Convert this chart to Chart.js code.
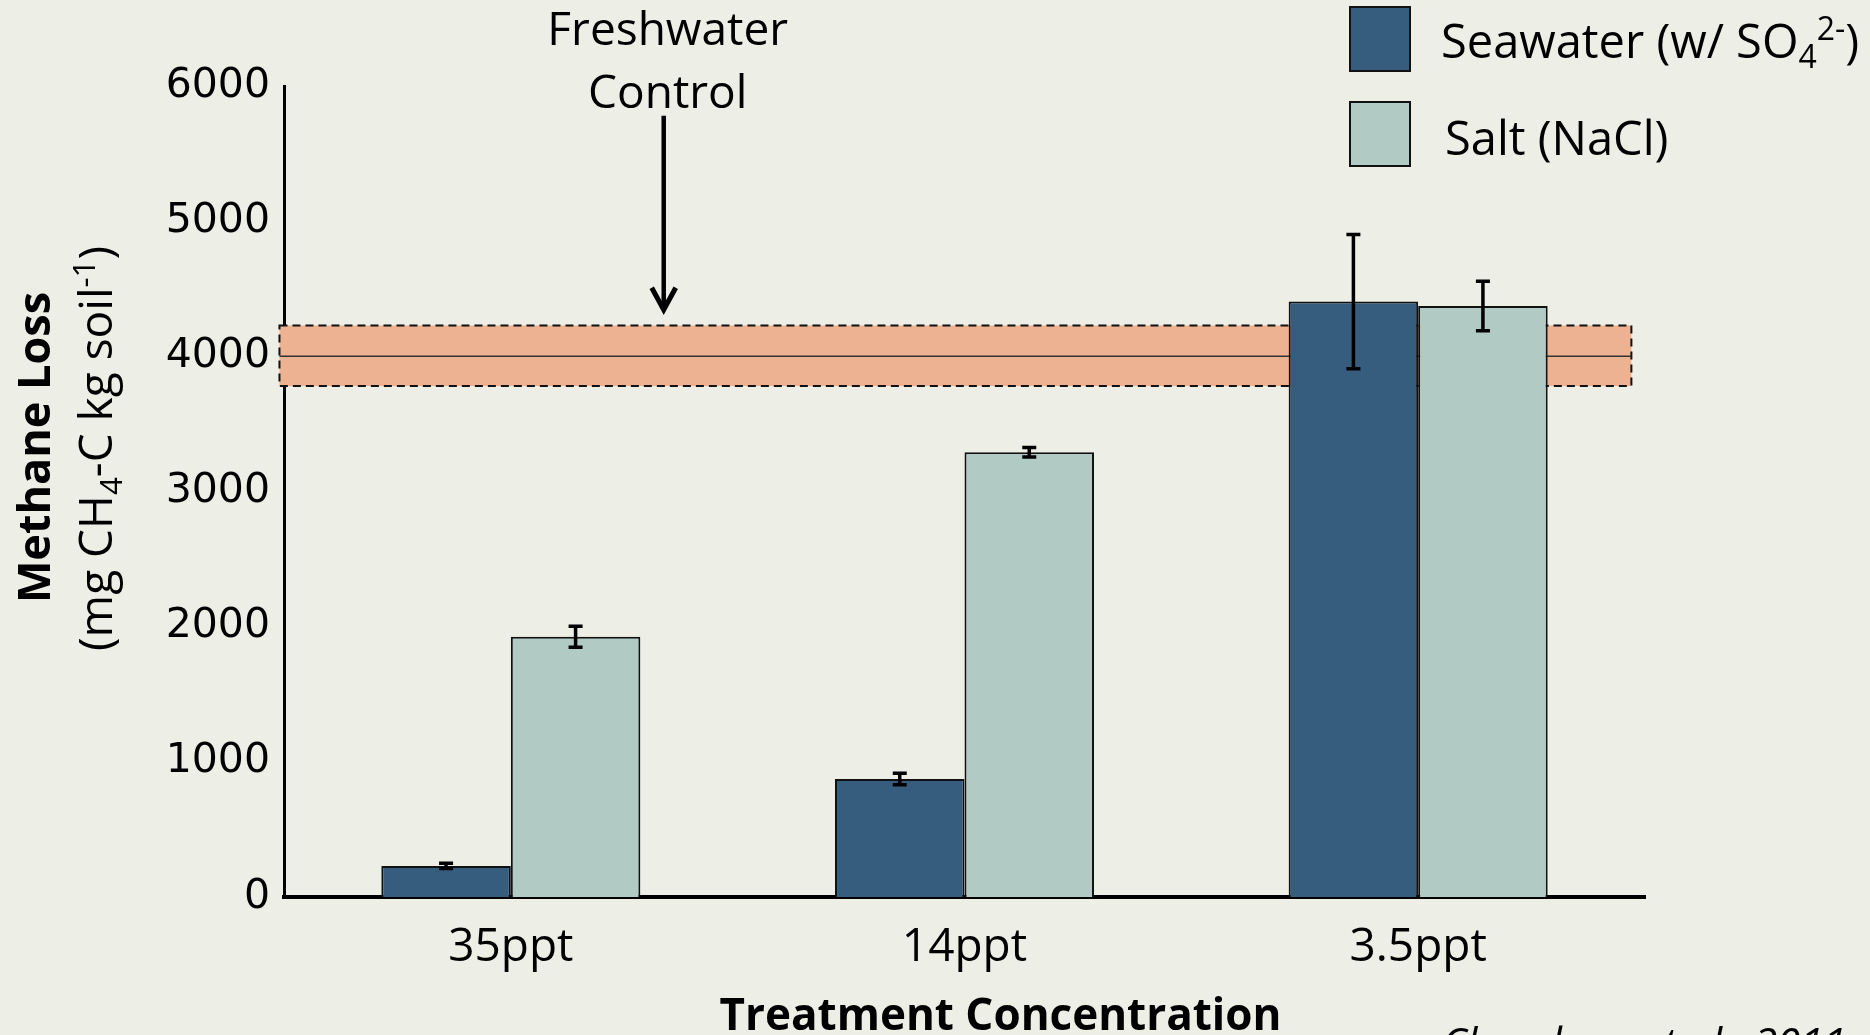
<!DOCTYPE html>
<html>
<head>
<meta charset="utf-8">
<script src="https://cdn.jsdelivr.net/npm/chart.js@4/dist/chart.umd.min.js"></script>
<style>
  html, body { margin: 0; padding: 0; background: #edeee6; }
  #wrap { width: 1870px; height: 1035px; position: relative; }
</style>
</head>
<body>
<div id="wrap"><canvas id="grafico"></canvas></div>
<script>
// data
const categories = ["35ppt", "14ppt", "3.5ppt"];
const seawater = [230, 873, 4405];
const seawaterErr = [20, 42, 497];
const salt = [1925, 3290, 4372];
const saltErr = [78, 35, 183];
const yMin = 0, yMax = 6000, yStep = 1000;
// freshwater control: mean and band
const control = { mean: 4000, low: 3780, high: 4228 };
const arrowFrom = 5780, arrowTo = 4345;

const seaColor = "#365c7e";
const saltColor = "#b1cbc4";
const bandColor = "#edb291";
const bg = "#edeee6";

// draws text with sub/superscripts, parts = [[text, "sub"|"sup"|null], ...]
function richText(ctx, parts, x, y, size, family, weight, align) {
  const font = (s) => (weight || "") + " " + s + "px " + family;
  let w = 0;
  parts.forEach(p => {
    ctx.font = font(p[1] ? size * 0.68 : size);
    w += ctx.measureText(p[0]).width;
  });
  let cx = align === "center" ? x - w / 2 : x;
  ctx.textAlign = "left";
  ctx.textBaseline = "alphabetic";
  parts.forEach(p => {
    const s = p[1] ? size * 0.68 : size;
    ctx.font = font(s);
    let dy = 0;
    if (p[1] === "sub") dy = size * 0.22;
    if (p[1] === "sup") dy = -size * 0.38;
    ctx.fillText(p[0], cx, y + dy);
    cx += ctx.measureText(p[0]).width;
  });
}

const bgPlugin = {
  id: "bg",
  beforeDraw(chart) {
    const ctx = chart.ctx;
    ctx.save();
    ctx.fillStyle = bg;
    ctx.fillRect(0, 0, chart.width, chart.height);
    ctx.restore();
  }
};

// control band behind the bars
const bandPlugin = {
  id: "band",
  beforeDatasetsDraw(chart) {
    const ctx = chart.ctx, x = chart.scales.x, y = chart.scales.y;
    const x0 = x.getPixelForValue(-0.51), x1 = x.getPixelForValue(2.47);
    const yt = y.getPixelForValue(control.high), yb = y.getPixelForValue(control.low);
    ctx.save();
    ctx.fillStyle = bandColor;
    ctx.fillRect(x0, yt, x1 - x0, yb - yt);
    ctx.strokeStyle = "#111";
    ctx.lineWidth = 2;
    ctx.setLineDash([8, 5]);
    ctx.strokeRect(x0, yt, x1 - x0, yb - yt);
    ctx.setLineDash([]);
    ctx.lineWidth = 1.5;
    ctx.strokeStyle = "#333";
    const ym = y.getPixelForValue(control.mean);
    ctx.beginPath();
    ctx.moveTo(x0, ym);
    ctx.lineTo(x1, ym);
    ctx.stroke();
    ctx.restore();
  }
};

// error bars + annotations on top
const extrasPlugin = {
  id: "extras",
  afterDatasetsDraw(chart) {
    const ctx = chart.ctx, xs = chart.scales.x, ys = chart.scales.y;
    const errs = [seawaterErr, saltErr];
    ctx.save();
    ctx.strokeStyle = "#000";
    chart.data.datasets.forEach((ds, i) => {
      chart.getDatasetMeta(i).data.forEach((bar, j) => {
        const v = ds.data[j], e = errs[i][j];
        const t = ys.getPixelForValue(v + e), b = ys.getPixelForValue(v - e);
        ctx.lineWidth = 3.5;
        ctx.beginPath();
        ctx.moveTo(bar.x, t); ctx.lineTo(bar.x, b);
        ctx.moveTo(bar.x - 7, t); ctx.lineTo(bar.x + 7, t);
        ctx.moveTo(bar.x - 7, b); ctx.lineTo(bar.x + 7, b);
        ctx.stroke();
      });
    });

    // freshwater control arrow
    const ax = xs.getPixelForValue(0.337);
    const a0 = ys.getPixelForValue(arrowFrom), a1 = ys.getPixelForValue(arrowTo);
    ctx.lineWidth = 4.5;
    ctx.beginPath();
    ctx.moveTo(ax, a0); ctx.lineTo(ax, a1 - 3);
    ctx.stroke();
    ctx.lineWidth = 5;
    ctx.beginPath();
    ctx.moveTo(ax - 12, a1 - 22); ctx.lineTo(ax, a1); ctx.lineTo(ax + 12, a1 - 22);
    ctx.stroke();
    ctx.fillStyle = "#000";
    ctx.font = "46px 'Open Sans'";
    ctx.textAlign = "center";
    ctx.textBaseline = "alphabetic";
    ctx.fillText("Freshwater", ax + 4, a0 - 71);
    ctx.fillText("Control", ax + 4, a0 - 8);

    const area = chart.chartArea;
    // x axis title
    ctx.font = "bold 44px 'Open Sans'";
    ctx.fillText("Treatment Concentration", (area.left + area.right) / 2 + 36, area.bottom + 133);

    // y axis title
    ctx.save();
    ctx.translate(50, (area.top + area.bottom) / 2 - 44);
    ctx.rotate(-Math.PI / 2);
    ctx.font = "bold 45px 'Open Sans'";
    ctx.textAlign = "center";
    ctx.fillText("Methane Loss", 0, 0);
    ctx.restore();
    ctx.save();
    ctx.translate(112, (area.top + area.bottom) / 2 - 43);
    ctx.rotate(-Math.PI / 2);
    richText(ctx, [["(mg CH"], ["4", "sub"], ["-C kg soil"], ["-1", "sup"], [")"]],
      0, 0, 46, "'Open Sans'", "", "center");
    ctx.restore();

    // legend
    const items = [
      { color: seaColor, y: 7, parts: [["Seawater (w/ SO"], ["4", "sub"], ["2-", "sup"], [")"]], base: 58, tx: 1441 },
      { color: saltColor, y: 102, parts: [["Salt (NaCl)"]], base: 155, tx: 1445 }
    ];
    items.forEach(it => {
      ctx.fillStyle = it.color;
      ctx.fillRect(1350, it.y, 60, 64);
      ctx.strokeStyle = "#111";
      ctx.lineWidth = 2;
      ctx.strokeRect(1350, it.y, 60, 64);
      ctx.fillStyle = "#000";
      richText(ctx, it.parts, it.tx, it.base, 47, "'Open Sans'", "", "left");
    });

    // citation, cut off at the bottom
    ctx.font = "italic 42px 'Open Sans'";
    ctx.textAlign = "left";
    ctx.fillText("Chambers et al., 2011", 1442, 1058);
    ctx.restore();
  }
};

const data = {
  labels: categories,
  datasets: [
    {
      label: "Seawater (w/ SO4 2-)",
      data: seawater,
      backgroundColor: seaColor,
      borderColor: "#111",
      borderWidth: 2,
    },
    {
      label: "Salt (NaCl)",
      data: salt,
      backgroundColor: saltColor,
      borderColor: "#111",
      borderWidth: 2,
    },
  ],
};

new Chart(document.getElementById("grafico"), {
  type: "bar",
  data: data,
  options: {
    responsive: true,
    maintainAspectRatio: false,
    animation: false,
    categoryPercentage: 0.571,
    barPercentage: 1.0,
    layout: { padding: { top: 86, right: 225, left: 0, bottom: 0 } },
    plugins: { legend: { display: false }, tooltip: { enabled: false } },
    scales: {
      x: {
        grid: { display: false, drawTicks: false },
        border: { display: true, color: "#000", width: 4 },
        ticks: { color: "#000", font: { family: "'Open Sans'", size: 46 }, padding: 23 },
        afterFit(s) { s.height = 138; },
      },
      y: {
        min: yMin,
        max: yMax,
        grid: { display: false, drawTicks: false },
        border: { display: true, color: "#000", width: 3 },
        ticks: {
          stepSize: yStep,
          color: "#000",
          font: { family: "'DejaVu Sans'", size: 41 },
          padding: 14,
          callback: (v) => String(v),
        },
        afterFit(s) { s.width = 284; },
      },
    },
  },
  plugins: [bgPlugin, bandPlugin, extrasPlugin],
});
</script>
</body>
</html>
